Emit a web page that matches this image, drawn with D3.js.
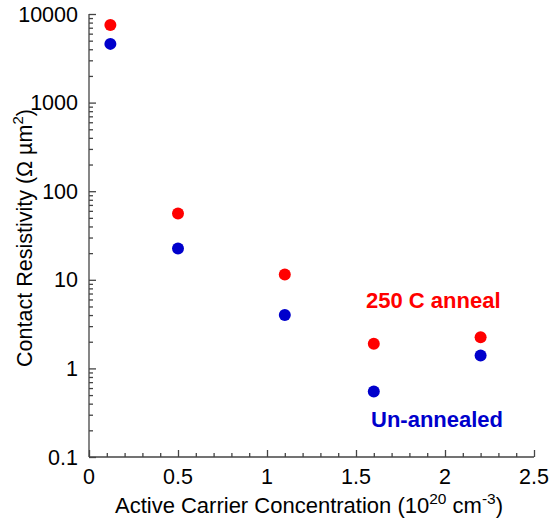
<!DOCTYPE html>
<html>
<head>
<meta charset="utf-8">
<script src="https://cdn.jsdelivr.net/npm/d3@7"></script>
<style>
body { margin: 0; background: #fff; }
text { font-family: "Liberation Sans", Arial, sans-serif; }
</style>
</head>
<body>
<div id="graph"></div>
<script>
WIDTH = 550;
HEIGHT = 523;

// データ
var concentration = [0.12, 0.5, 1.1, 1.6, 2.2];
var annealed = [7500, 56, 11.5, 1.9, 2.25];   // 250 C anneal
var unannealed = [4600, 22.5, 4.0, 0.55, 1.4]; // Un-annealed
var xTicks = [0, 0.5, 1, 1.5, 2, 2.5];
var yTicks = [0.1, 1, 10, 100, 1000, 10000];

var plotLeft = 89, plotTop = 14, plotRight = 534, plotBottom = 457;

var svg = d3.select("#graph").append("svg").attr("width", WIDTH).attr("height", HEIGHT);

var x = d3.scaleLinear().domain([0, 2.5]).range([plotLeft, plotRight]);
var y = d3.scaleLog().domain([0.1, 10000]).range([plotBottom, plotTop]);

var axisColor = "#444";
var fs = 21.5;

// x軸
var xg = svg.append("g").attr("transform", "translate(0," + plotBottom + ")");
xg.call(d3.axisBottom(x).tickValues(d3.range(0, 2.501, 0.1)).tickSize(-4).tickFormat(""));
xg.selectAll(".tick").filter(function(d) { return Math.abs(d * 2 - Math.round(d * 2)) < 1e-6; })
	.select("line").attr("y2", -7);
xg.selectAll("line, path").attr("stroke", axisColor).attr("stroke-width", 1.3);
xg.select(".domain").attr("d", "M" + plotLeft + ",0H" + plotRight);
svg.append("g").selectAll("text").data(xTicks).enter().append("text")
	.attr("x", function(d) { return x(d); })
	.attr("y", plotBottom + 27)
	.attr("text-anchor", "middle")
	.attr("font-size", fs)
	.text(function(d) { return d; });

// y軸
var minor = [];
for (var e = -1; e < 4; e++) {
	for (var k = 1; k < 10; k++) minor.push(k * Math.pow(10, e));
}
minor.push(10000);
var yg = svg.append("g").attr("transform", "translate(" + plotLeft + ",0)");
yg.call(d3.axisLeft(y).tickValues(minor).tickSize(-4).tickFormat(""));
yg.selectAll(".tick").filter(function(d) { return yTicks.some(function(t) { return Math.abs(t - d) / t < 1e-6; }); })
	.select("line").attr("x2", 7);
yg.selectAll("line, path").attr("stroke", axisColor).attr("stroke-width", 1.3);
yg.select(".domain").attr("d", "M0," + plotTop + "V" + plotBottom);
svg.append("g").selectAll("text").data(yTicks).enter().append("text")
	.attr("x", plotLeft - 11)
	.attr("y", function(d) { return y(d) + 7.5; })
	.attr("text-anchor", "end")
	.attr("font-size", fs)
	.text(function(d) { return d; });

// 点
svg.append("g").selectAll("circle").data(concentration).enter().append("circle")
	.attr("cx", function(d) { return x(d); })
	.attr("cy", function(d, i) { return y(annealed[i]); })
	.attr("r", 6).attr("fill", "#ff0000");
svg.append("g").selectAll("circle").data(concentration).enter().append("circle")
	.attr("cx", function(d) { return x(d); })
	.attr("cy", function(d, i) { return y(unannealed[i]); })
	.attr("r", 6).attr("fill", "#0000cc");

// ラベル
svg.append("text").attr("x", 366).attr("y", 308).attr("font-size", 22).attr("font-weight", "bold")
	.attr("fill", "#ff0000").text("250 C anneal");
svg.append("text").attr("x", 371).attr("y", 427).attr("font-size", 22).attr("font-weight", "bold")
	.attr("fill", "#0000cc").text("Un-annealed");

// 軸タイトル
var xt = svg.append("text").attr("x", 309).attr("y", 513)
	.attr("text-anchor", "middle").attr("font-size", 22);
xt.append("tspan").text("Active Carrier Concentration (10");
xt.append("tspan").attr("dy", -9).attr("font-size", 15.5).text("20");
xt.append("tspan").attr("dy", 9).text(" cm");
xt.append("tspan").attr("dy", -9).attr("font-size", 15.5).text("-3");
xt.append("tspan").attr("dy", 9).text(")");

var yt = svg.append("text").attr("transform", "translate(32,238) rotate(-90)")
	.attr("text-anchor", "middle").attr("font-size", fs);
yt.append("tspan").text("Contact Resistivity (\u03A9 \u00B5m");
yt.append("tspan").attr("dy", -9).attr("font-size", 15).text("2");
yt.append("tspan").attr("dy", 9).text(")");
</script>
</body>
</html>
